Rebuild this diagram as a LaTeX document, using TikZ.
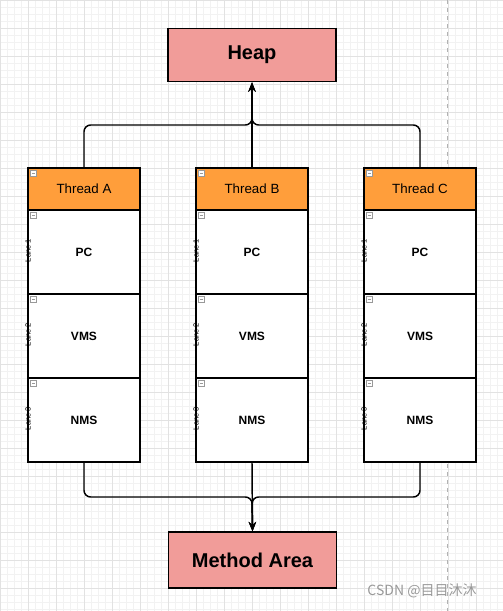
\documentclass[tikz,border=0pt]{standalone}
\usepackage{fontspec}
\setmainfont{Liberation Sans}
\newfontfamily\cjkfont{Noto Sans CJK SC}
\usetikzlibrary{arrows.meta}
\definecolor{heapred}{HTML}{F19C99}
\definecolor{threadorange}{HTML}{FF9E3B}
\definecolor{gridminor}{HTML}{F2F2F2}
\definecolor{gridmajor}{HTML}{E2E2E2}
\begin{document}
\begin{tikzpicture}[x=0.75pt,y=-0.75pt,
  area/.style={draw,line width=1.1pt,fill=heapred,minimum width=126pt,
    minimum height=40pt,inner sep=0pt,font=\bfseries\fontsize{15}{18}\selectfont},
  header/.style={draw,line width=1.1pt,fill=threadorange,minimum width=84pt,outer sep=0pt,
    minimum height=31.5pt,inner sep=0pt,font=\fontsize{10}{12}\selectfont,anchor=north west},
  lane/.style={draw,line width=1.1pt,fill=white,minimum width=84pt,outer sep=0pt,
    minimum height=63pt,inner sep=0pt,font=\bfseries\fontsize{9}{11}\selectfont,anchor=north},
  lanelbl/.style={rotate=90,inner sep=0pt,font=\fontsize{5.6}{6}\selectfont},
  icon/.style={draw=gray!80,fill=white,line width=0.4pt,minimum size=4.5pt,inner sep=0pt,
    anchor=north west,xshift=1.8pt,yshift=-1.8pt,
    path picture={\draw[gray!80,line width=0.5pt]
      ([xshift=1pt]path picture bounding box.west) -- ([xshift=-1pt]path picture bounding box.east);}},
  link/.style={line width=1.1pt,rounded corners=5pt,-{Stealth[length=7pt,width=5.5pt]}}]
  \useasboundingbox (0,0) rectangle (503,611);
  % fond quadrille
  \fill[white] (0,0) rectangle (503,611);
  \draw[gridminor,line width=0.4pt,step=5.25pt] (0,0) grid (503,611);
  \draw[gridmajor,line width=0.5pt,step=21pt] (0,0) grid (503,611);
  \draw[gray!60,dashed,line width=0.5pt] (447,0) -- (447,611); % limite de page
  % zones memoire
  \node[area] (heap) at (252,55) {Heap};
  \node[area,minimum height=42pt] (ma) at (252.5,560) {Method Area};
  % thread A
  \node[header] (hdA) at (28,168) {Thread A};
  \node[lane] (pcA) at (hdA.south) {PC};
  \node[lane] (vmsA) at (pcA.south) {VMS};
  \node[lane] (nmsA) at (vmsA.south) {NMS};
  % thread B
  \node[header] (hdB) at (196,168) {Thread B};
  \node[lane] (pcB) at (hdB.south) {PC};
  \node[lane] (vmsB) at (pcB.south) {VMS};
  \node[lane] (nmsB) at (vmsB.south) {NMS};
  % thread C
  \node[header] (hdC) at (364,168) {Thread C};
  \node[lane] (pcC) at (hdC.south) {PC};
  \node[lane] (vmsC) at (pcC.south) {VMS};
  \node[lane] (nmsC) at (vmsC.south) {NMS};
  % petites icones
  \node[icon] (icA0) at (hdA.north west) {};
  \node[icon] (icA1) at (pcA.north west) {};
  \node[icon] (icA2) at (vmsA.north west) {};
  \node[icon] (icA3) at (nmsA.north west) {};
  \node[icon] (icB0) at (hdB.north west) {};
  \node[icon] (icB1) at (pcB.north west) {};
  \node[icon] (icB2) at (vmsB.north west) {};
  \node[icon] (icB3) at (nmsB.north west) {};
  \node[icon] (icC0) at (hdC.north west) {};
  \node[icon] (icC1) at (pcC.north west) {};
  \node[icon] (icC2) at (vmsC.north west) {};
  \node[icon] (icC3) at (nmsC.north west) {};
  % etiquettes des couloirs
  \node[lanelbl] (lnA1) at ([yshift=1pt]pcA.west) {Lane 1};
  \node[lanelbl] (lnA2) at ([yshift=1pt]vmsA.west) {Lane 2};
  \node[lanelbl] (lnA3) at ([yshift=1pt]nmsA.west) {Lane 3};
  \node[lanelbl] (lnB1) at ([yshift=1pt]pcB.west) {Lane 1};
  \node[lanelbl] (lnB2) at ([yshift=1pt]vmsB.west) {Lane 2};
  \node[lanelbl] (lnB3) at ([yshift=1pt]nmsB.west) {Lane 3};
  \node[lanelbl] (lnC1) at ([yshift=1pt]pcC.west) {Lane 1};
  \node[lanelbl] (lnC2) at ([yshift=1pt]vmsC.west) {Lane 2};
  \node[lanelbl] (lnC3) at ([yshift=1pt]nmsC.west) {Lane 3};
  % liaisons
  \coordinate (jtop) at (252,125);
  \coordinate (jbot) at (252,497);
  \draw[link] (hdA.north) |- (jtop) -- (heap.south);
  \draw[link] (hdC.north) |- (jtop) -- (heap.south);
  \draw[link] (hdB.north) -- (heap.south);
  \draw[link] (nmsA.south) |- (jbot) -- (ma.north);
  \draw[link] (nmsC.south) |- (jbot) -- (ma.north);
  \draw[link] (nmsB.south) -- (ma.north);
  % filigrane
  \node[text=gray!80,font=\cjkfont\fontsize{10.5}{12}\selectfont] (mark) at (422,591) {CSDN @目目沐沐};
\end{tikzpicture}
\end{document}
